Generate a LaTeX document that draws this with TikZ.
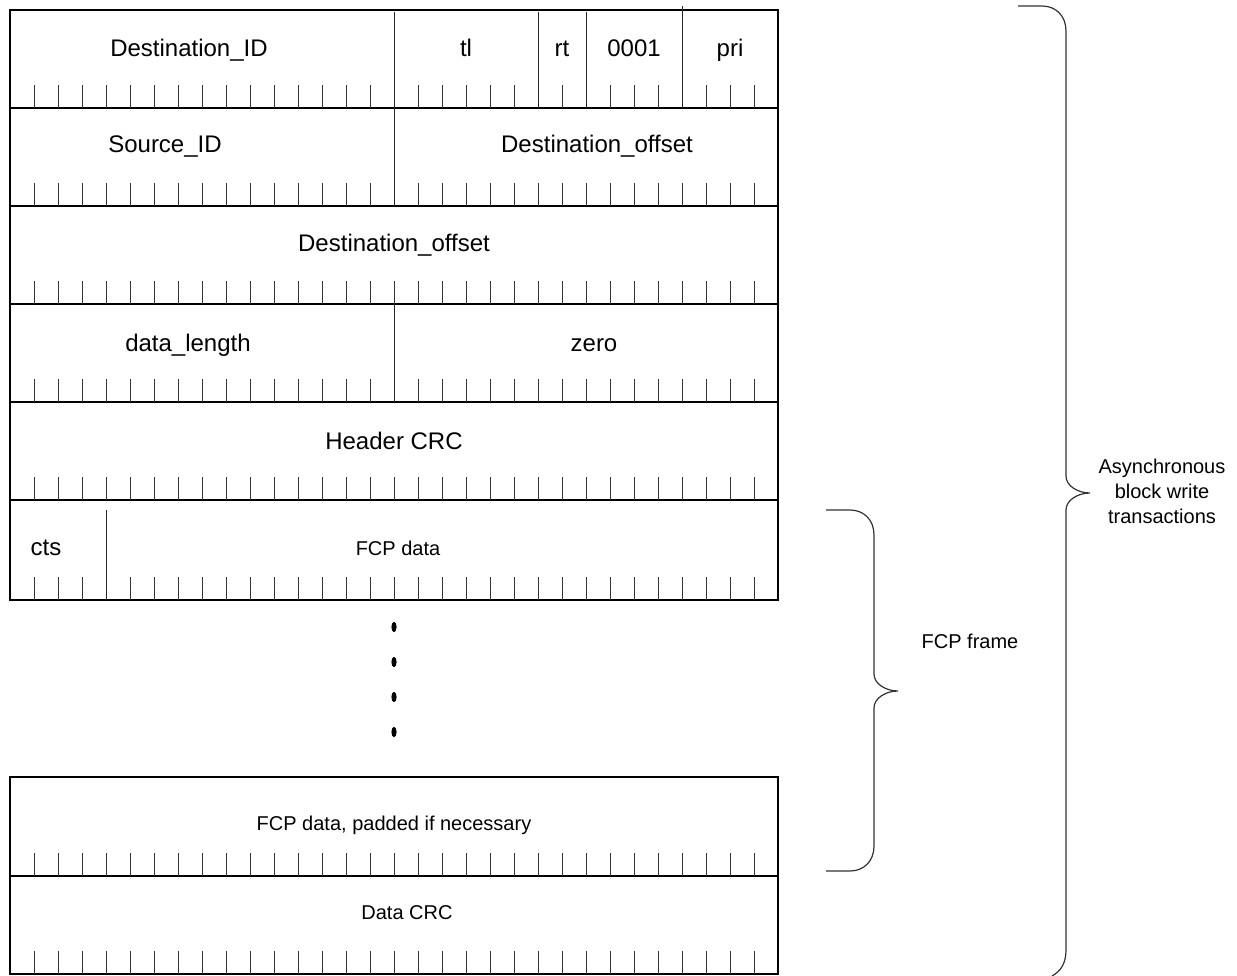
\documentclass[tikz,border=0pt]{standalone}
\usepackage{fontspec}
\setmainfont{Liberation Sans}
\usetikzlibrary{positioning}
\tikzset{
  frame/.style    ={line width=1.8pt,black},
  tickmark/.style ={line width=0.8pt,black!80},
  divider/.style  ={line width=1pt,black!85},
  field/.style    ={inner sep=0pt,anchor=base,font=\fontsize{24}{29}\selectfont},
  smallfield/.style={inner sep=0pt,anchor=base,font=\fontsize{20}{25}\selectfont},
  bracelabel/.style={inner sep=0pt,align=center,font=\fontsize{20}{25}\selectfont},
  bracepath/.style={line width=1.2pt,black!80}
}
\begin{document}
\begin{tikzpicture}[x=1pt,y=-1pt]
  \useasboundingbox (0,0) rectangle (1237,976);

  % Packet frames
  \draw [frame] (10,10) rectangle (778,600);
  \foreach \yr in {108,206,304,402,500}
    \draw [frame] (10,\yr) -- (778,\yr);
  \draw [frame] (10,777) rectangle (778,974);
  \draw [frame] (10,876) -- (778,876);

  % Bit ticks
  \foreach \yb in {108,206,304,402,500,600,876,974}
    \foreach \k in {1,...,31}
      \draw [tickmark] ({10+24*\k},\yb) -- ++(0,-23);

  % Field dividers
  \draw [divider] (394,12) -- (394,206);
  \draw [divider] (538,12) -- (538,108);
  \draw [divider] (586,12) -- (586,108);
  \draw [divider] (682,6)  -- (682,108);
  \draw [divider] (394,304) -- (394,402);
  \draw [divider] (106,510) -- (106,600);

  % Nodes
  \node (dstid)    [field] at (189,57)  {Destination\_ID};
  \node (tl)       [field] at (466,57)  {tl};
  \node (rt)       [field] at (562,57)  {rt};
  \node (tcode)    [field] at (634,57)  {0001};
  \node (pri)      [field] at (730,57)  {pri};
  \node (srcid)    [field] at (165,153) {Source\_ID};
  \node (dstoff)   [field] at (597,153) {Destination\_offset};
  \node (dstofflo) [field] at (394,252) {Destination\_offset};
  \node (datalen)  [field] at (188,352) {data\_length};
  \node (zero)     [field] at (594,352) {zero};
  \node (hdrcrc)   [field] at (394,449) {Header CRC};
  \node (cts)      [field] at (46,555)  {cts};
  \node (fcpdata)  [smallfield] at (398,555) {FCP data};
  \node (fcppad)   [smallfield] at (394,830) {FCP data, padded if necessary};
  \node (datacrc)  [smallfield] at (407,919) {Data CRC};

  % Continuation dots
  \foreach \i in {0,...,3}
    \fill (394,{627+35*\i}) ellipse (2.6 and 5.2);

  % Braces
  \draw [bracepath] (826,510) -- (850,510)
    .. controls (864,510) and (874,520) .. (874,535) -- (874,674)
    .. controls (874,684) and (886,691) .. (898,691)
    .. controls (886,691) and (874,698) .. (874,708) -- (874,846)
    .. controls (874,861) and (864,871) .. (850,871) -- (826,871);
  \draw [bracepath] (1018,6) -- (1042,6)
    .. controls (1056,6) and (1066,16) .. (1066,31) -- (1066,476)
    .. controls (1066,486) and (1078,493) .. (1090,493)
    .. controls (1078,493) and (1066,500) .. (1066,510) -- (1066,950)
    .. controls (1066,963) and (1061,971) .. (1052,976);

  \node (fcpframe)   [smallfield] at (970,648) {FCP frame};
  \node (asyncblock) [bracelabel] at (1162,491) {Asynchronous\\block write\\transactions};
\end{tikzpicture}
\end{document}
